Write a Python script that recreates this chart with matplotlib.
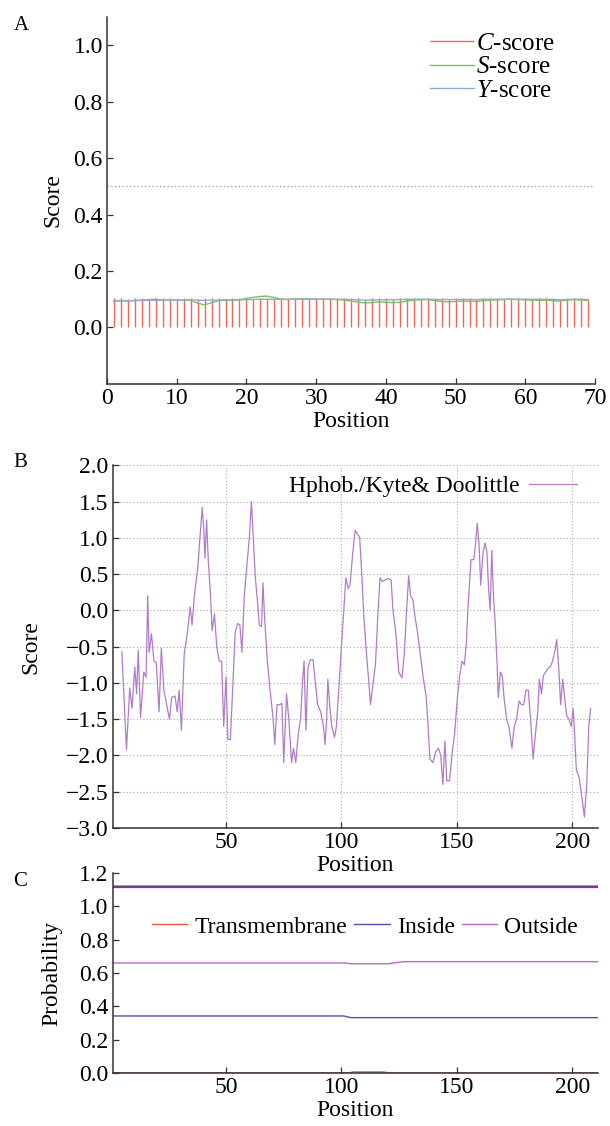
import matplotlib
matplotlib.use("Agg")
import matplotlib.pyplot as plt
import numpy as np

plt.rcParams['font.family'] = ['Liberation Serif', 'DejaVu Serif']
plt.rcParams['mathtext.fontset'] = 'custom'
plt.rcParams['mathtext.rm'] = 'Liberation Serif'
plt.rcParams['mathtext.it'] = 'Liberation Serif:italic'

# ---- Panel A: SignalP scores (positions 1..69)
sp_pos = list(range(1, 70))
c_score = [0.103, 0.103, 0.102, 0.103, 0.103, 0.102, 0.103, 0.103, 0.103, 0.102,
           0.103, 0.103, 0.102, 0.103, 0.103, 0.103, 0.102, 0.103, 0.103, 0.103,
           0.102, 0.103, 0.103, 0.103, 0.102, 0.103, 0.103, 0.103, 0.102, 0.103,
           0.103, 0.103, 0.102, 0.103, 0.103, 0.103, 0.102, 0.103, 0.103, 0.103,
           0.102, 0.103, 0.103, 0.103, 0.102, 0.103, 0.103, 0.103, 0.102, 0.103,
           0.103, 0.103, 0.102, 0.103, 0.103, 0.103, 0.102, 0.103, 0.103, 0.103,
           0.102, 0.103, 0.103, 0.103, 0.102, 0.103, 0.103, 0.103, 0.102]
s_score = [0.094, 0.095, 0.094, 0.096, 0.097, 0.099, 0.100, 0.097, 0.096, 0.097,
           0.097, 0.096, 0.086, 0.080, 0.088, 0.095, 0.097, 0.096, 0.098, 0.103,
           0.107, 0.110, 0.111, 0.106, 0.100, 0.099, 0.101, 0.102, 0.101, 0.100,
           0.100, 0.100, 0.099, 0.097, 0.094, 0.090, 0.087, 0.088, 0.091, 0.089,
           0.088, 0.089, 0.094, 0.097, 0.098, 0.099, 0.096, 0.092, 0.091, 0.092,
           0.094, 0.093, 0.092, 0.095, 0.097, 0.098, 0.099, 0.100, 0.099, 0.098,
           0.097, 0.096, 0.097, 0.095, 0.094, 0.097, 0.099, 0.097, 0.096]
y_score = [0.094, 0.094, 0.095, 0.095, 0.096, 0.096, 0.096, 0.097, 0.097, 0.097,
           0.097, 0.098, 0.097, 0.096, 0.097, 0.097, 0.098, 0.098, 0.098, 0.099,
           0.099, 0.100, 0.100, 0.100, 0.100, 0.100, 0.100, 0.100, 0.100, 0.100,
           0.100, 0.100, 0.100, 0.100, 0.099, 0.098, 0.097, 0.097, 0.098, 0.098,
           0.098, 0.099, 0.100, 0.100, 0.100, 0.100, 0.099, 0.099, 0.099, 0.099,
           0.099, 0.099, 0.099, 0.100, 0.100, 0.100, 0.100, 0.100, 0.100, 0.100,
           0.100, 0.100, 0.100, 0.099, 0.098, 0.099, 0.100, 0.100, 0.099]
cutoff = 0.5

# ---- Panel B: Kyte & Doolittle hydrophobicity
hp_pos = [4.9, 6.9, 8.3, 9.3, 10.5, 11.3, 12.0, 13.0, 14.4, 15.4, 16.1, 16.7, 17.7, 18.8,
          19.8, 21.0, 22.0, 23.1, 24.3, 25.5, 26.5, 27.9, 28.9, 29.7, 30.7, 31.9, 33.3,
          34.5, 35.3, 36.3, 37.8, 38.7, 39.7, 40.4, 40.9, 41.6, 42.3, 43.3, 44.0, 45.0,
          46.0, 47.1, 48.1, 49.0, 50.0, 50.8, 51.9, 53.0, 54.0, 55.0, 56.0, 56.9, 57.9,
          59.0, 60.1, 61.0, 61.8, 62.7, 63.7, 64.4, 65.4, 66.0, 66.7, 67.9, 69.1, 70.4,
          71.1, 72.1, 73.3, 74.2, 75.0, 76.2, 77.2, 78.4, 79.2, 80.2, 81.3, 82.3, 83.1,
          83.8, 84.6, 85.5, 86.5, 87.7, 88.7, 89.7, 91.0, 92.2, 92.9, 93.6, 94.1, 94.9,
          95.8, 97.0, 97.8, 98.8, 99.8, 100.8, 101.9, 102.9, 103.7, 104.9, 105.9, 107.1,
          107.9, 108.8, 109.6, 110.6, 111.6, 112.6, 113.7, 114.7, 115.7, 116.7, 117.7,
          118.9, 120.1, 121.5, 122.3, 123.5, 124.8, 126.2, 127.2, 128.2, 129.1, 129.9,
          130.9, 131.9, 132.9, 134.1, 135.3, 136.7, 137.5, 138.3, 139.6, 140.8, 142.0,
          143.0, 143.9, 144.8, 145.6, 146.8, 148.0, 149.0, 150.2, 151.2, 152.2, 153.2,
          154.1, 154.7, 156.1, 157.3, 158.0, 158.8, 159.6, 160.3, 161.3, 162.2, 163.0,
          163.7, 164.4, 165.1, 165.8, 166.6, 167.4, 167.9, 168.8, 169.6, 170.4, 171.5,
          172.5, 173.8, 174.8, 175.8, 176.9, 177.9, 178.9, 179.9, 180.9, 181.9, 183.0,
          184.0, 185.0, 185.7, 186.6, 187.4, 188.4, 189.4, 190.4, 191.4, 192.5, 193.2,
          194.1, 194.9, 195.8, 196.6, 197.5, 198.5, 199.5, 200.3, 200.8, 201.7, 202.9,
          204.2, 205.2, 206.2, 207.1, 207.9]
hp_val = [-0.57, -1.92, -1.07, -1.35, -0.78, -1.15, -0.55, -1.48, -0.85, -0.92, 0.20, -0.58,
          -0.32, -0.70, -0.72, -1.40, -0.52, -1.10, -1.30, -1.50, -1.20, -1.18, -1.40,
          -1.10, -1.65, -0.60, -0.30, 0.05, -0.20, 0.20, 0.60, 1.00, 1.42, 1.10, 0.72,
          1.25, 0.70, 0.20, -0.28, -0.05, -0.50, -0.70, -0.70, -1.60, -0.92, -1.78, -1.78,
          -1.00, -0.30, -0.18, -0.20, -0.58, 0.20, 0.60, 1.00, 1.50, 1.00, 0.45, 0.10,
          -0.20, -0.22, 0.38, -0.10, -0.70, -1.10, -1.50, -1.85, -1.30, -1.30, -1.28,
          -2.10, -1.15, -1.50, -2.10, -1.90, -2.10, -1.70, -1.50, -1.00, -0.70, -1.65,
          -0.80, -0.68, -0.68, -1.00, -1.30, -1.40, -1.60, -1.85, -1.50, -0.95, -1.30,
          -1.60, -1.75, -1.60, -1.10, -0.60, -0.10, 0.45, 0.30, 0.35, 0.80, 1.10, 1.05,
          1.00, 0.50, -0.05, -0.50, -0.90, -1.30, -1.00, -0.75, -0.10, 0.45, 0.40, 0.42,
          0.44, 0.42, 0.00, -0.30, -0.85, -0.93, -0.60, 0.00, 0.48, 0.20, 0.15, -0.10,
          -0.30, -0.60, -0.90, -1.20, -1.60, -2.05, -2.10, -1.95, -1.90, -2.00, -2.40,
          -1.80, -2.35, -2.35, -1.95, -1.70, -1.20, -0.90, -0.70, -0.75, -0.45, 0.00,
          0.70, 0.70, 0.90, 1.20, 0.90, 0.35, 0.80, 0.93, 0.80, 0.30, 0.00, 0.83, 0.20,
          -0.20, -0.75, -1.20, -0.85, -0.90, -1.20, -1.50, -1.60, -1.90, -1.60, -1.50,
          -1.25, -1.30, -1.30, -1.10, -1.10, -1.50, -2.05, -1.70, -1.40, -0.95, -1.15,
          -0.90, -0.85, -0.80, -0.78, -0.70, -0.55, -0.40, -0.80, -1.30, -0.95, -1.20,
          -1.45, -1.50, -1.60, -1.35, -1.60, -2.20, -2.30, -2.60, -2.85, -2.40, -1.60,
          -1.35]

# ---- Panel C: TMHMM posterior probabilities
tm_pos = [1, 103, 105, 118, 121, 211]
tm_val = [0.0, 0.0, 0.006, 0.006, 0.0, 0.0]
in_pos = [1, 101, 104, 211]
in_val = [0.342, 0.342, 0.332, 0.332]
out_pos = [1, 102, 104, 120, 127, 211]
out_val = [0.660, 0.660, 0.655, 0.655, 0.668, 0.668]
topo_pos = [1, 211]
topo_level = 1.115

fig = plt.figure(figsize=(6.1, 11.26), dpi=100)
fs = 17

def style(ax):
    ax.spines['top'].set_visible(False)
    ax.spines['right'].set_visible(False)
    for s in ('left', 'bottom'):
        ax.spines[s].set_color('#333333')
        ax.spines[s].set_linewidth(1.1)
        ax.spines[s].set_zorder(5)
    ax.tick_params(direction='in', length=4, labelsize=fs, width=0.9, color='#333333', pad=3)

# Panel A
ax1 = fig.add_axes([0.1754, 0.659, 0.80, 0.326])
ax1.vlines(sp_pos, 0, c_score, color='#ee6a58', lw=1.0, label=r'$\mathit{C}$-score')
ax1.plot(sp_pos, s_score, color='#78c060', lw=1.0, label=r'$\mathit{S}$-score')
ax1.plot(sp_pos, y_score, color='#8faad8', lw=1.0, label=r'$\mathit{Y}$-score')
ax1.axhline(cutoff, color='#999999', ls=(0, (1, 2)), lw=0.9)
ax1.set_xlim(0, 70)
ax1.set_ylim(-0.2, 1.1)
ax1.set_xticks(range(0, 71, 10))
ax1.set_yticks([0.0, 0.2, 0.4, 0.6, 0.8, 1.0])
ax1.set_yticklabels(['0.0', '0.2', '0.4', '0.6', '0.8', '1.0'])
ax1.set_xlabel('Position', fontsize=fs, labelpad=1)
ax1.set_ylabel('Score', fontsize=fs, labelpad=7)
style(ax1)
ax1.legend(loc='upper right', bbox_to_anchor=(0.965, 1.02), frameon=False, fontsize=18,
           handlelength=1.75, handletextpad=0.1, labelspacing=0.05)

# Panel B
ax2 = fig.add_axes([0.185, 0.2647, 0.795, 0.322])
ax2.plot(hp_pos, hp_val, color='#b07cc8', lw=0.9, label='Hphob./Kyte& Doolittle')
ax2.set_xlim(1, 211)
ax2.set_ylim(-3, 2)
ax2.set_xticks([50, 100, 150, 200])
ax2.set_yticks(np.arange(-3.0, 2.01, 0.5))
ax2.set_yticklabels(['\u22123.0', '\u22122.5', '\u22122.0', '\u22121.5', '\u22121.0', '\u22120.5',
                     '0.0', '0.5', '1.0', '1.5', '2.0'])
ax2.grid(True, color='#aaaaaa', ls=(0, (1, 2)), lw=0.8)
ax2.set_xlabel('Position', fontsize=fs, labelpad=1)
ax2.set_ylabel('Score', fontsize=fs, labelpad=18)
style(ax2)
ax2.legend(loc='upper right', bbox_to_anchor=(1.0, 1.03), frameon=False, fontsize=fs,
           markerfirst=False, handlelength=2.0, handletextpad=0.4)

# Panel C
ax3 = fig.add_axes([0.185, 0.0471, 0.795, 0.1776])
ax3.plot(topo_pos, [topo_level + 0.006] * 2, color='#d070c8', lw=1.2)
ax3.plot(topo_pos, [topo_level] * 2, color='#7a3a86', lw=1.6)
ax3.plot(tm_pos, tm_val, color='#e8553a', lw=1.0, label='Transmembrane', zorder=1)
ax3.plot(in_pos, in_val, color='#5050b0', lw=1.0, label='Inside')
ax3.plot(out_pos, out_val, color='#c264c4', lw=1.0, label='Outside')
ax3.set_xlim(1, 211)
ax3.set_ylim(0, 1.2)
ax3.set_xticks([50, 100, 150, 200])
ax3.set_yticks(np.arange(0, 1.21, 0.2))
ax3.set_yticklabels(['0.0', '0.2', '0.4', '0.6', '0.8', '1.0', '1.2'])
ax3.set_xlabel('Position', fontsize=fs, labelpad=1)
ax3.set_ylabel('Probability', fontsize=fs, labelpad=12)
style(ax3)
ax3.legend(loc='center', bbox_to_anchor=(0.52, 0.73), ncol=3, frameon=False, fontsize=fs,
           handlelength=1.5, handletextpad=0.3, columnspacing=0.3)

fig.text(0.022, 0.973, 'A', fontsize=15)
fig.text(0.022, 0.585, 'B', fontsize=15)
fig.text(0.022, 0.213, 'C', fontsize=15)

fig.savefig('out.png', dpi=100)
